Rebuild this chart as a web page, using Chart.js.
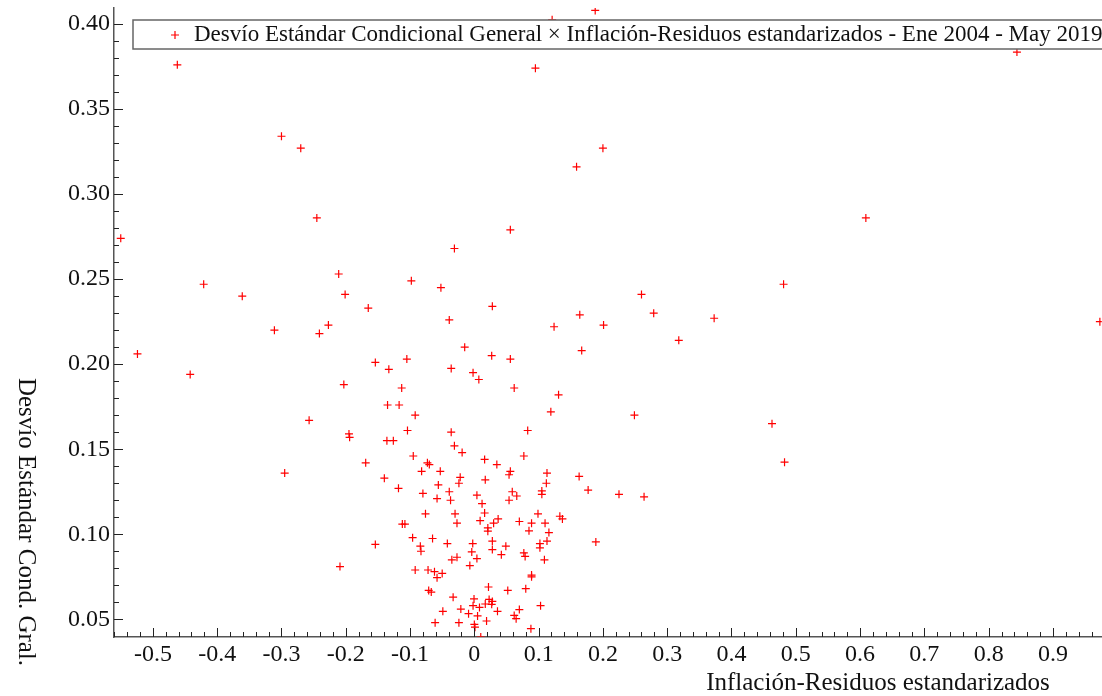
<!DOCTYPE html>
<html>
<head>
<meta charset="utf-8">
<script src="https://cdn.jsdelivr.net/npm/chart.js@4.4.1/dist/chart.umd.min.js"></script>
<style>
  html, body { margin: 0; padding: 0; background: #fff; overflow: hidden; width: 1102px; height: 696px; }
  canvas { display: block; }
</style>
</head>
<body>
<canvas id="scatterChart" width="1107" height="696"></canvas>
<script>
// valores
var inflResid = [
    0.188, 0.121, -0.462, 0.095, 0.844, -0.300, -0.270, -0.245, -0.550, 0.200,
    0.159, 0.056, -0.031, 0.609, 0.973, -0.211, -0.421, -0.361, -0.201, -0.098,
    -0.052, -0.165, 0.028, -0.039, 0.124, -0.311, -0.227, -0.241, -0.524, -0.442,
    -0.154, -0.133, -0.203, -0.135, -0.117, -0.257, -0.195, -0.194, -0.136, -0.126,
    -0.295, -0.169, -0.140, -0.118, -0.154, -0.209, 0.260, 0.279, 0.164, 0.201,
    0.373, 0.481, 0.318, -0.015, -0.105, 0.027, 0.056, 0.167, -0.036, -0.002,
    0.007, 0.062, -0.113, 0.131, 0.119, 0.249, 0.463, -0.092, -0.104, -0.036,
    0.083, -0.031, -0.019, -0.095, -0.070, -0.073, 0.016, 0.035, 0.077, -0.082,
    -0.053, -0.022, 0.017, 0.054, 0.056, 0.113, 0.112, 0.163, -0.056, -0.024,
    0.105, 0.105, -0.080, -0.039, 0.004, 0.059, 0.066, -0.058, -0.037, 0.012,
    0.054, -0.076, -0.030, 0.016, 0.099, 0.133, 0.137, -0.112, -0.108, -0.027,
    0.009, 0.030, 0.037, 0.070, 0.089, 0.110, 0.021, 0.021, 0.085, 0.116,
    -0.096, -0.065, 0.028, 0.113, -0.084, -0.083, -0.042, -0.0025, -0.004, 0.028,
    0.049, 0.102, 0.102, 0.077, 0.079, 0.042, 0.109, -0.035, -0.027, 0.004,
    -0.007, -0.092, -0.072, -0.062, -0.058, -0.050, 0.089, 0.089, 0.022, -0.071,
    -0.067, 0.052, 0.080, -0.033, -0.0005, 0.023, 0.028, 0.017, 0.027, -0.002,
    0.008, -0.021, -0.049, -0.009, 0.005, 0.036, 0.062, 0.065, 0.070, 0.103,
    0.019, -0.024, -0.061, 0.000, 0.001, 0.088, 0.010, 0.177, 0.189, 0.225,
    0.264, 0.4825
];
var desvioCond = [
    0.408, 0.4025, 0.376, 0.374, 0.3835, 0.334, 0.327, 0.286, 0.274, 0.327,
    0.316, 0.279, 0.268, 0.286, 0.225, 0.253, 0.247, 0.240, 0.241, 0.249,
    0.245, 0.233, 0.234, 0.226, 0.222, 0.220, 0.223, 0.218, 0.206, 0.194,
    0.201, 0.197, 0.188, 0.176, 0.176, 0.167, 0.159, 0.157, 0.155, 0.155,
    0.136, 0.142, 0.133, 0.127, 0.094, 0.081, 0.241, 0.230, 0.229, 0.223,
    0.227, 0.247, 0.214, 0.210, 0.203, 0.205, 0.203, 0.208, 0.1975, 0.195,
    0.191, 0.186, 0.186, 0.182, 0.172, 0.170, 0.165, 0.170, 0.161, 0.160,
    0.161, 0.152, 0.148, 0.146, 0.141, 0.142, 0.144, 0.141, 0.146, 0.137,
    0.137, 0.1335, 0.132, 0.135, 0.137, 0.136, 0.130, 0.134, 0.129, 0.130,
    0.1255, 0.1235, 0.124, 0.125, 0.123, 0.125, 0.1225, 0.121, 0.120, 0.118,
    0.120, 0.112, 0.112, 0.1125, 0.112, 0.1106, 0.109, 0.106, 0.106, 0.1065,
    0.108, 0.1065, 0.109, 0.1075, 0.1065, 0.1065, 0.1037, 0.1018, 0.102, 0.101,
    0.098, 0.0975, 0.096, 0.096, 0.093, 0.090, 0.0945, 0.0945, 0.0896, 0.091,
    0.093, 0.0945, 0.092, 0.089, 0.087, 0.088, 0.085, 0.085, 0.0865, 0.0857,
    0.0816, 0.079, 0.079, 0.078, 0.0745, 0.077, 0.076, 0.075, 0.069, 0.067,
    0.066, 0.067, 0.068, 0.063, 0.062, 0.0617, 0.0605, 0.059, 0.0588, 0.058,
    0.057, 0.056, 0.0547, 0.0533, 0.052, 0.0547, 0.0523, 0.0504, 0.0557, 0.058,
    0.049, 0.048, 0.048, 0.047, 0.0454, 0.0445, 0.0396, 0.126, 0.0955, 0.1235,
    0.122, 0.1424
];

var xTicks = [-0.5, -0.4, -0.3, -0.2, -0.1, 0, 0.1, 0.2, 0.3, 0.4, 0.5, 0.6, 0.7, 0.8, 0.9];
var xTickLabels = ['-0.5', '-0.4', '-0.3', '-0.2', '-0.1', '0', '0.1', '0.2', '0.3', '0.4', '0.5', '0.6', '0.7', '0.8', '0.9'];
var yTicks = [0.05, 0.10, 0.15, 0.20, 0.25, 0.30, 0.35, 0.40];
var yTickLabels = ['0.05', '0.10', '0.15', '0.20', '0.25', '0.30', '0.35', '0.40'];

var legendText = 'Desvío Estándar Condicional General × Inflación-Residuos estandarizados - Ene 2004 - May 2019';
var xTitle = 'Inflación-Residuos estandarizados';
var yTitle = 'Desvío Estándar Cond. Gral.';

var serif = '"Liberation Serif", "Times New Roman", serif';

var points = inflResid.map(function(x, i){ return {x: x, y: desvioCond[i]}; });

// ticks hacia adentro + leyenda + titulos
var decorPlugin = {
    id: 'decor',
    afterDraw: function(chart){
        var ctx = chart.ctx;
        var area = chart.chartArea;
        var sx = chart.scales.x;
        var sy = chart.scales.y;
        ctx.save();
        ctx.strokeStyle = '#222';
        ctx.lineWidth = 1;

        // x: mayores cada 0.1, menores cada 0.02
        for (var k = -28; k <= 48; k++) {
            var v = k * 0.02;
            if (v < sx.min || v > sx.max) continue;
            var px = Math.round(sx.getPixelForValue(v)) + 0.5;
            var major = (k % 5 === 0);
            ctx.beginPath();
            ctx.moveTo(px, area.bottom);
            ctx.lineTo(px, area.bottom - (major ? 9 : 5));
            ctx.stroke();
        }
        // y: mayores cada 0.05, menores cada 0.01
        for (var j = 5; j <= 40; j++) {
            var w = j * 0.01;
            if (w < sy.min || w > sy.max) continue;
            var py = Math.round(sy.getPixelForValue(w)) + 0.5;
            var majorY = (j % 5 === 0);
            ctx.beginPath();
            ctx.moveTo(area.left, py);
            ctx.lineTo(area.left + (majorY ? 9 : 5), py);
            ctx.stroke();
        }

        // leyenda
        ctx.fillStyle = '#fff';
        ctx.fillRect(133, 20, 1000, 29);
        ctx.strokeStyle = '#666';
        ctx.lineWidth = 1.5;
        ctx.strokeRect(133, 20, 1000, 29);
        ctx.strokeStyle = '#ff0000';
        ctx.lineWidth = 1.2;
        ctx.beginPath();
        ctx.moveTo(171, 35); ctx.lineTo(179, 35);
        ctx.moveTo(175, 31); ctx.lineTo(175, 39);
        ctx.stroke();
        ctx.fillStyle = '#111';
        ctx.font = '23px ' + serif;
        ctx.textAlign = 'left';
        ctx.textBaseline = 'middle';
        ctx.fillText(legendText, 194, 35);

        // titulos de ejes
        ctx.font = '25px ' + serif;
        ctx.textAlign = 'center';
        ctx.fillText(xTitle, 878, 683);
        ctx.translate(26, 522);
        ctx.rotate(Math.PI / 2);
        ctx.fillText(yTitle, 0, 0);
        ctx.restore();
    }
};

document.addEventListener('DOMContentLoaded', function() {
    var ctx = document.getElementById('scatterChart').getContext('2d');
    var myChart = new Chart(ctx, {
        type: 'scatter',
        data: {
            datasets: [{
                label: legendText,
                data: points,
                pointStyle: 'cross',
                pointRadius: 4,
                borderColor: '#ff0000',
                backgroundColor: '#ff0000',
                borderWidth: 1.2
            }]
        },
        options: {
            responsive: false,
            animation: false,
            layout: { padding: { top: 8, right: 0, left: 0, bottom: 0 } },
            plugins: {
                legend: { display: false },
                tooltip: { enabled: false }
            },
            scales: {
                x: {
                    type: 'linear',
                    min: -0.5605,
                    max: 0.976,
                    afterBuildTicks: function(s){ s.ticks = xTicks.map(function(v){ return {value: v}; }); },
                    afterFit: function(s){
                        s.height = 59;
                        s.paddingLeft = 0;
                        s.paddingRight = 0;
                    },
                    grid: { drawOnChartArea: false, drawTicks: false },
                    border: { color: '#555', width: 1.5 },
                    ticks: {
                        autoSkip: false,
                        maxRotation: 0,
                        padding: 3,
                        color: '#111',
                        font: { family: serif, size: 24 },
                        callback: function(value, index){ return xTickLabels[index]; }
                    }
                },
                y: {
                    type: 'linear',
                    min: 0.0396,
                    max: 0.4094,
                    afterBuildTicks: function(s){ s.ticks = yTicks.map(function(v){ return {value: v}; }); },
                    afterFit: function(s){
                        s.width = 114;
                        s.paddingTop = 0;
                        s.paddingBottom = 0;
                    },
                    grid: { drawOnChartArea: false, drawTicks: false },
                    border: { color: '#555', width: 1.5 },
                    ticks: {
                        autoSkip: false,
                        padding: 4,
                        color: '#111',
                        font: { family: serif, size: 24 },
                        callback: function(value, index){ return yTickLabels[index]; }
                    }
                }
            }
        },
        plugins: [decorPlugin]
    });
});
</script>
</body>
</html>
